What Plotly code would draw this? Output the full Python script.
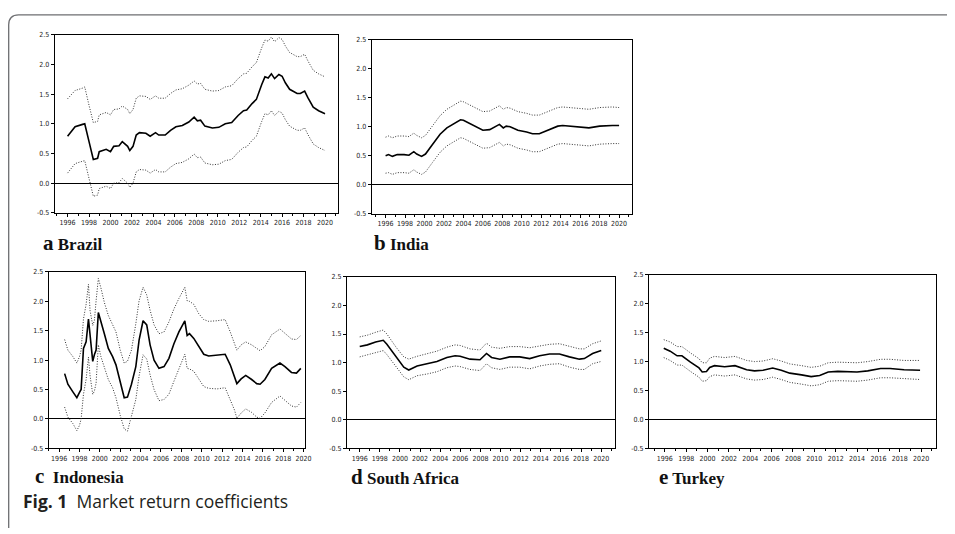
import plotly.graph_objects as go

# ---------------- data ----------------
year_ticks = [1996, 1998, 2000, 2002, 2004, 2006, 2008, 2010, 2012, 2014, 2016, 2018, 2020]
y_ticks = [-0.5, 0.0, 0.5, 1.0, 1.5, 2.0, 2.5]

brazil_years = [1996.0, 1996.7, 1997.4, 1997.6, 1998.0, 1998.4, 1998.8, 1998.95, 1999.6, 2000.0,
                2000.3, 2000.8, 2001.1, 2001.6, 2001.8, 2002.1, 2002.4, 2002.7, 2003.3, 2003.7,
                2004.2, 2004.5, 2005.1, 2005.6, 2006.1, 2006.7, 2007.3, 2007.8, 2008.1, 2008.4,
                2008.8, 2009.5, 2010.1, 2010.7, 2011.3, 2011.9, 2012.4, 2012.7, 2013.2, 2013.6,
                2014.1, 2014.4, 2014.7, 2015.0, 2015.3, 2015.7, 2016.0, 2016.3, 2016.7, 2017.4,
                2017.7, 2018.1, 2018.4, 2018.9, 2019.4, 2019.8, 2020.0]
brazil_coef = [0.79, 0.95, 0.99, 1.00, 0.70, 0.40, 0.42, 0.53, 0.57, 0.53,
               0.62, 0.63, 0.70, 0.62, 0.55, 0.62, 0.81, 0.85, 0.84, 0.79,
               0.85, 0.81, 0.81, 0.89, 0.95, 0.97, 1.03, 1.11, 1.05, 1.06,
               0.96, 0.93, 0.94, 1.00, 1.02, 1.14, 1.22, 1.23, 1.34, 1.41,
               1.66, 1.79, 1.77, 1.84, 1.76, 1.83, 1.80, 1.69, 1.58, 1.51,
               1.51, 1.55, 1.44, 1.28, 1.22, 1.18, 1.17]
brazil_upper = [1.42, 1.56, 1.60, 1.62, 1.31, 1.02, 1.04, 1.15, 1.19, 1.15,
                1.24, 1.25, 1.30, 1.24, 1.17, 1.24, 1.43, 1.47, 1.46, 1.41,
                1.47, 1.43, 1.43, 1.51, 1.57, 1.59, 1.65, 1.72, 1.67, 1.68,
                1.58, 1.55, 1.56, 1.62, 1.64, 1.76, 1.84, 1.85, 1.96, 2.03,
                2.28, 2.41, 2.39, 2.46, 2.38, 2.45, 2.42, 2.31, 2.20, 2.13,
                2.13, 2.17, 2.06, 1.90, 1.84, 1.80, 1.79]
brazil_lower = [0.17, 0.33, 0.37, 0.38, 0.08, -0.22, -0.20, -0.09, -0.05, -0.09,
                0.00, 0.01, 0.08, 0.00, -0.07, 0.00, 0.19, 0.23, 0.22, 0.17,
                0.23, 0.19, 0.19, 0.27, 0.33, 0.35, 0.41, 0.49, 0.43, 0.44,
                0.34, 0.31, 0.32, 0.38, 0.40, 0.52, 0.60, 0.61, 0.72, 0.79,
                1.04, 1.17, 1.15, 1.22, 1.14, 1.21, 1.18, 1.07, 0.96, 0.89,
                0.89, 0.93, 0.82, 0.66, 0.60, 0.56, 0.55]

india_years = [1996.0, 1996.3, 1996.7, 1997.2, 1997.9, 1998.4, 1998.9, 1999.2, 1999.7, 2000.1,
               2000.8, 2001.6, 2002.3, 2003.0, 2003.7, 2004.0, 2004.7, 2005.4, 2006.0, 2006.7,
               2007.2, 2007.7, 2008.1, 2008.4, 2008.8, 2009.6, 2010.5, 2011.1, 2011.8, 2012.9,
               2013.7, 2014.2, 2014.9, 2015.9, 2016.9, 2018.0, 2018.6, 2019.3, 2020.0]
india_coef = [0.50, 0.52, 0.49, 0.52, 0.52, 0.51, 0.57, 0.53, 0.49, 0.53,
              0.69, 0.87, 0.98, 1.05, 1.12, 1.11, 1.05, 0.98, 0.94, 0.95,
              0.99, 1.04, 0.98, 1.01, 1.00, 0.94, 0.91, 0.88, 0.88, 0.96,
              1.01, 1.02, 1.01, 0.99, 0.98, 1.01, 1.02, 1.02, 1.02]
india_upper = [0.82, 0.84, 0.81, 0.84, 0.84, 0.83, 0.89, 0.85, 0.81, 0.85,
               1.01, 1.19, 1.30, 1.37, 1.44, 1.43, 1.37, 1.30, 1.26, 1.27,
               1.31, 1.36, 1.30, 1.33, 1.32, 1.26, 1.23, 1.20, 1.20, 1.28,
               1.33, 1.34, 1.33, 1.31, 1.30, 1.33, 1.34, 1.34, 1.33]
india_lower = [0.20, 0.21, 0.18, 0.21, 0.21, 0.20, 0.26, 0.22, 0.18, 0.22,
               0.38, 0.56, 0.67, 0.74, 0.81, 0.80, 0.74, 0.67, 0.63, 0.64,
               0.68, 0.73, 0.67, 0.70, 0.69, 0.63, 0.60, 0.57, 0.57, 0.65,
               0.70, 0.71, 0.70, 0.68, 0.67, 0.70, 0.71, 0.71, 0.71]

indonesia_years = [1996.54, 1996.86, 1997.35, 1997.74, 1998.0, 1998.16, 1998.39, 1998.65, 1998.88, 1999.04,
                   1999.3, 1999.46, 1999.63, 1999.85, 2000.1, 2000.44, 2000.83, 2001.25, 2001.58, 2002.0,
                   2002.39, 2002.71, 2003.1, 2003.53, 2003.85, 2004.24, 2004.6, 2004.93, 2005.32, 2005.8,
                   2006.3, 2006.78, 2007.27, 2007.76, 2008.34, 2008.57, 2008.8, 2009.22, 2009.71, 2010.2,
                   2010.68, 2011.5, 2012.3, 2012.8, 2013.22, 2013.45, 2013.87, 2014.32, 2014.9, 2015.4,
                   2015.73, 2016.2, 2016.86, 2017.68, 2018.17, 2018.81, 2019.3, 2019.73]
indonesia_coef = [0.77, 0.59, 0.46, 0.36, 0.45, 0.50, 1.20, 1.31, 1.70, 1.42,
                  0.98, 1.09, 1.17, 1.81, 1.67, 1.45, 1.20, 1.06, 0.92, 0.64,
                  0.36, 0.37, 0.59, 0.89, 1.34, 1.67, 1.60, 1.26, 1.00, 0.86,
                  0.89, 1.03, 1.28, 1.48, 1.67, 1.42, 1.45, 1.37, 1.23, 1.10,
                  1.07, 1.09, 1.10, 0.92, 0.73, 0.60, 0.68, 0.74, 0.67, 0.60,
                  0.59, 0.67, 0.86, 0.95, 0.89, 0.79, 0.78, 0.86]
indonesia_upper = [1.35, 1.17, 1.06, 0.95, 1.06, 1.17, 1.70, 1.95, 2.29, 1.84,
                   1.59, 1.67, 2.01, 2.39, 2.23, 1.98, 1.76, 1.59, 1.48, 1.17,
                   0.95, 0.98, 1.17, 1.62, 2.01, 2.24, 2.11, 1.85, 1.60, 1.45,
                   1.48, 1.65, 1.87, 2.05, 2.24, 2.01, 2.00, 1.95, 1.79, 1.69,
                   1.66, 1.67, 1.69, 1.48, 1.28, 1.17, 1.26, 1.31, 1.26, 1.19,
                   1.16, 1.23, 1.43, 1.53, 1.46, 1.36, 1.35, 1.42]
indonesia_lower = [0.20, 0.03, -0.08, -0.20, -0.11, 0.00, 0.42, 0.67, 1.05, 0.73,
                   0.42, 0.47, 0.61, 1.26, 1.06, 0.89, 0.67, 0.53, 0.36, 0.06,
                   -0.17, -0.21, 0.03, 0.33, 0.73, 1.09, 1.02, 0.75, 0.50, 0.31,
                   0.33, 0.42, 0.64, 0.86, 1.10, 0.86, 0.85, 0.81, 0.67, 0.55,
                   0.52, 0.51, 0.53, 0.33, 0.15, 0.01, 0.10, 0.17, 0.11, 0.03,
                   0.01, 0.10, 0.28, 0.39, 0.32, 0.22, 0.20, 0.28]

safrica_years = [1996.0, 1996.76, 1997.58, 1998.34, 1998.7, 1999.65, 2000.38, 2000.87, 2001.7, 2002.68,
                 2003.67, 2004.66, 2005.48, 2005.98, 2006.96, 2007.95, 2008.6, 2009.1, 2009.93, 2010.91,
                 2011.9, 2012.89, 2013.88, 2014.86, 2015.85, 2016.84, 2017.83, 2018.32, 2019.14, 2020.0]
safrica_coef = [1.28, 1.31, 1.36, 1.39, 1.32, 1.09, 0.92, 0.87, 0.94, 0.98,
                1.02, 1.09, 1.12, 1.11, 1.06, 1.05, 1.16, 1.09, 1.06, 1.10,
                1.10, 1.07, 1.12, 1.15, 1.15, 1.10, 1.06, 1.07, 1.16, 1.21]
safrica_upper = [1.45, 1.48, 1.53, 1.57, 1.50, 1.26, 1.10, 1.06, 1.11, 1.16,
                 1.20, 1.27, 1.31, 1.30, 1.24, 1.22, 1.34, 1.27, 1.25, 1.28,
                 1.28, 1.26, 1.29, 1.32, 1.33, 1.29, 1.24, 1.24, 1.33, 1.38]
safrica_lower = [1.10, 1.14, 1.18, 1.21, 1.14, 0.91, 0.75, 0.70, 0.77, 0.80,
                 0.84, 0.91, 0.94, 0.93, 0.88, 0.86, 0.98, 0.91, 0.88, 0.92,
                 0.92, 0.89, 0.94, 0.97, 0.98, 0.92, 0.88, 0.88, 0.98, 1.02]

turkey_years = [1995.9, 1996.5, 1997.15, 1997.6, 1998.4, 1999.2, 1999.5, 1999.9, 2000.2, 2000.65,
                2001.6, 2002.57, 2003.66, 2004.4, 2005.2, 2006.1, 2006.9, 2007.7, 2008.8, 2009.7,
                2010.5, 2011.3, 2012.2, 2013.1, 2014.0, 2015.0, 2016.2, 2017.1, 2018.4, 2019.9]
turkey_coef = [1.23, 1.18, 1.10, 1.10, 0.99, 0.89, 0.82, 0.83, 0.90, 0.93,
               0.91, 0.93, 0.86, 0.84, 0.85, 0.89, 0.85, 0.80, 0.77, 0.74,
               0.76, 0.82, 0.83, 0.82, 0.82, 0.84, 0.88, 0.88, 0.86, 0.85]
turkey_upper = [1.38, 1.34, 1.26, 1.26, 1.15, 1.05, 0.98, 0.98, 1.06, 1.09,
                1.07, 1.09, 1.02, 1.00, 1.01, 1.05, 1.01, 0.96, 0.93, 0.90,
                0.92, 0.98, 0.99, 0.98, 0.98, 1.00, 1.04, 1.04, 1.02, 1.02]
turkey_lower = [1.07, 1.02, 0.94, 0.94, 0.83, 0.73, 0.66, 0.67, 0.74, 0.77,
                0.75, 0.77, 0.70, 0.68, 0.69, 0.73, 0.69, 0.64, 0.61, 0.58,
                0.60, 0.66, 0.67, 0.66, 0.66, 0.68, 0.72, 0.72, 0.70, 0.69]

captions = ["a", "b", "c", "d", "e"]
countries = ["Brazil", "India", "Indonesia", "South Africa", "Turkey"]
fig_caption_bold = "Fig. 1"
fig_caption_text = "Market return coefficients"

# ---------------- layout helpers ----------------
# the page body has an 8px margin, so the figure is drawn 8px in from the window edge
OFF = 8
W, H = 955 - OFF, 534 - OFF

def px_x(p):
    return (p - OFF) / W

def px_y(p):
    return 1 - (p - OFF) / H

TICK_FONT = dict(family="Liberation Sans Narrow, DejaVu Sans Condensed, Liberation Sans, sans-serif",
                 size=7, color="#222222")
DOT = dict(color="#333333", width=1.0, dash="1px,1.6px")

panels = [
    # (years, coef, upper, lower, plot box px (l, t, r, b), x range, caption pos (x, y), gap)
    (brazil_years, brazil_coef, brazil_upper, brazil_lower, (55, 31, 340, 212), (1994.80, 2021.20), (42, 243), " "),
    (india_years, india_coef, india_upper, india_lower, (374, 36, 636, 213), (1994.57, 2021.33), (375, 243), " "),
    (indonesia_years, indonesia_coef, indonesia_upper, indonesia_lower, (49, 272, 307, 451), (1994.98, 2020.15), (34, 479), "&nbsp;&nbsp;"),
    (safrica_years, safrica_coef, safrica_upper, safrica_lower, (349, 277, 619, 451), (1994.72, 2021.38), (352, 480), " "),
    (turkey_years, turkey_coef, turkey_upper, turkey_lower, (653, 275, 942, 451), (1994.51, 2021.40), (662, 480), " "),
]

fig = go.Figure()
layout = dict(
    width=W, height=H,
    margin=dict(l=0, r=0, t=0, b=0),
    paper_bgcolor="white", plot_bgcolor="white",
    showlegend=False,
)

annotations = []
for i, (yrs, coef, up, lo, box, xr, cap, gap) in enumerate(panels):
    n = "" if i == 0 else str(i + 1)
    xa, ya = "x" + n, "y" + n
    l, t, r, b = box
    for vals, style in ((up, DOT), (lo, DOT), (coef, dict(color="black", width=1.6))):
        fig.add_trace(go.Scatter(x=yrs, y=vals, mode="lines", line=style,
                                 xaxis=xa, yaxis=ya, hoverinfo="skip"))
    layout["xaxis" + n] = dict(
        domain=[px_x(l), px_x(r)], anchor=ya, range=list(xr),
        tickmode="array", tickvals=year_ticks, ticktext=[str(v) for v in year_ticks],
        ticks="outside", ticklen=3, tickcolor="black", tickwidth=1,
        minor=dict(ticks="outside", ticklen=2, tickcolor="black", dtick=1, tick0=1996),
        showline=True, linecolor="black", linewidth=1, mirror=True,
        showgrid=False, zeroline=False, tickfont=TICK_FONT, fixedrange=True,
    )
    layout["yaxis" + n] = dict(
        domain=[px_y(b), px_y(t)], anchor=xa, range=[-0.5, 2.5],
        tickmode="array", tickvals=y_ticks, ticktext=["%.1f" % v for v in y_ticks],
        ticks="outside", ticklen=3, tickcolor="black", tickwidth=1,
        showline=True, linecolor="black", linewidth=1, mirror=True,
        showgrid=False, zeroline=True, zerolinecolor="black", zerolinewidth=1,
        tickfont=TICK_FONT, fixedrange=True,
    )
    annotations.append(dict(
        xref="paper", yref="paper", x=px_x(cap[0]), y=px_y(cap[1]),
        xanchor="left", yanchor="middle", showarrow=False, borderpad=0,
        text=("<b><span style='font-size:21px'>%s</span>%s"
              "<span style='font-size:17px'>%s</span></b>") % (captions[i], gap, countries[i]),
        font=dict(family="Liberation Serif, Times New Roman, serif", size=17, color="#111111"),
    ))

annotations.append(dict(
    xref="paper", yref="paper", x=px_x(22), y=px_y(505),
    xanchor="left", yanchor="middle", showarrow=False, borderpad=0,
    text="<b>%s</b>&nbsp;&nbsp;%s" % (fig_caption_bold, fig_caption_text),
    font=dict(family="Open Sans, Noto Sans, sans-serif", size=17.5, color="#231f20"),
))
layout["annotations"] = annotations

# rounded outer frame (top + left edges)
x0, yt, yb = px_x(8.7), px_y(11), px_y(532)
rx, ry = 10 / W, 10 / H
layout["shapes"] = [dict(
    type="path", xref="paper", yref="paper",
    path=f"M {x0},{yb} L {x0},{yt - ry} Q {x0},{yt} {x0 + rx},{yt} L 1.02,{yt}",
    line=dict(color="#6d6e71", width=1.3),
)]

fig.update_layout(**layout)
fig.write_html("out.html")
